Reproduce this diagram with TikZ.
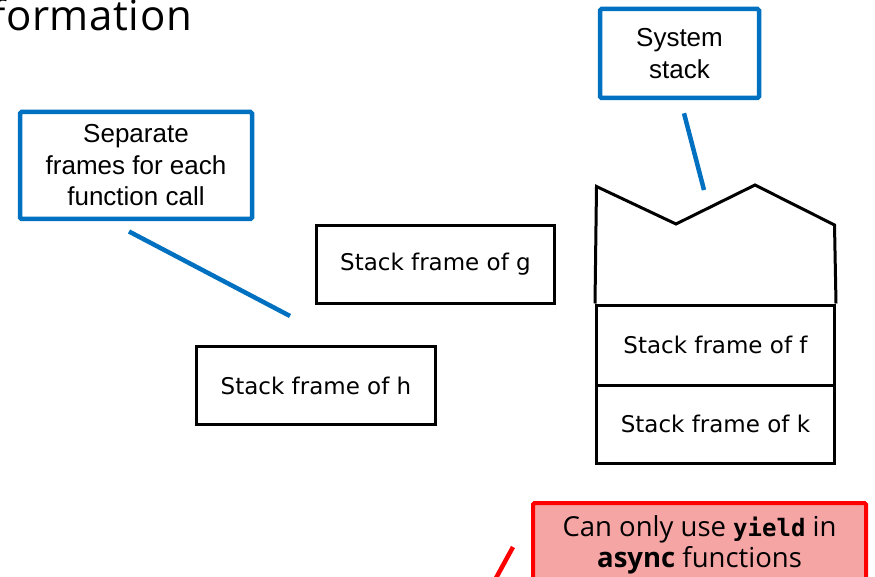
\documentclass[tikz,border=0pt]{standalone}
\usepackage{fontspec}
\setmainfont{Liberation Sans}
\newfontfamily\titlefont[LetterSpace=1.5]{Open Sans}
\newfontfamily\framefont{DejaVu Sans}
\newfontfamily\notefont{Open Sans}
\newfontfamily\codefont{DejaVu Sans Mono}
\usetikzlibrary{calc}
\definecolor{calloutblue}{HTML}{0070C0}
\definecolor{notered}{HTML}{FF0000}
\definecolor{notefill}{HTML}{F6A5A5}
\begin{document}
\begin{tikzpicture}[x=1pt,y=-1pt,
  callout/.style={draw=calloutblue, line width=4.5pt, rounded corners=1.5pt,
    align=center, inner sep=0pt, font=\fontsize{26}{31.5}\selectfont},
  framebox/.style={draw=black, line width=3pt, inner sep=0pt,
    font=\framefont\fontsize{23}{28}\selectfont},
  pointer/.style={draw=calloutblue, line width=4.5pt},
  warnbox/.style={draw=notered, fill=notefill, line width=4pt, rounded corners=1.5pt,
    align=center, inner sep=0pt, font=\notefont\fontsize{27.5}{31}\selectfont},
  warnline/.style={draw=notered, line width=4.5pt}]
\useasboundingbox (0,0) rectangle (875,577);

% heading fragment
\node[anchor=base west, inner sep=0pt, font=\titlefont\fontsize{42}{48}\selectfont]
  (title) at (-9,31) {formation};

% callouts
\node[callout, minimum width=232pt, minimum height=107pt] (sep) at (136,165.5)
  {Separate\\frames for each\\function call};
\node[callout, minimum width=159pt, minimum height=89pt] (sys) at (679.5,53.5)
  {System\\stack};

% detached frames
\node[framebox, minimum width=238pt, minimum height=78pt] (g) at (435.5,264.5)
  {Stack frame of g};
\node[framebox, minimum width=239pt, minimum height=78pt] (h) at (316,385.5)
  {Stack frame of h};

% system stack
\node[framebox, minimum width=238pt, minimum height=80pt] (f) at (715.5,345)
  {Stack frame of f};
\node[framebox, minimum width=238pt, minimum height=78.5pt] (k) at (715.5,424.25)
  {Stack frame of k};
\draw[line width=3pt, line join=miter]
  (f.north west) -- (596.5,186.5) -- (676,224) -- (755,185) -- (834.5,225) -- (f.north east);

% pointers
\coordinate (sepTip) at (290,316);
\coordinate (sysTip) at (704,190);
\draw[pointer] ($(sep.south)+(-7,10.25)$) -- (sepTip);
\draw[pointer] ($(sys.south)+(4.5,13)$) -- (sysTip);

% note
\node[warnbox, minimum width=333pt, minimum height=84pt] (note) at (699.5,545)
  {Can only use {\codefont\bfseries\fontsize{24}{31}\selectfont yield} in\\{\bfseries async} functions};
\coordinate (noteTip) at (490,589);
\draw[warnline] ($(note.west)+(-18,2)$) -- (noteTip);
\end{tikzpicture}
\end{document}
